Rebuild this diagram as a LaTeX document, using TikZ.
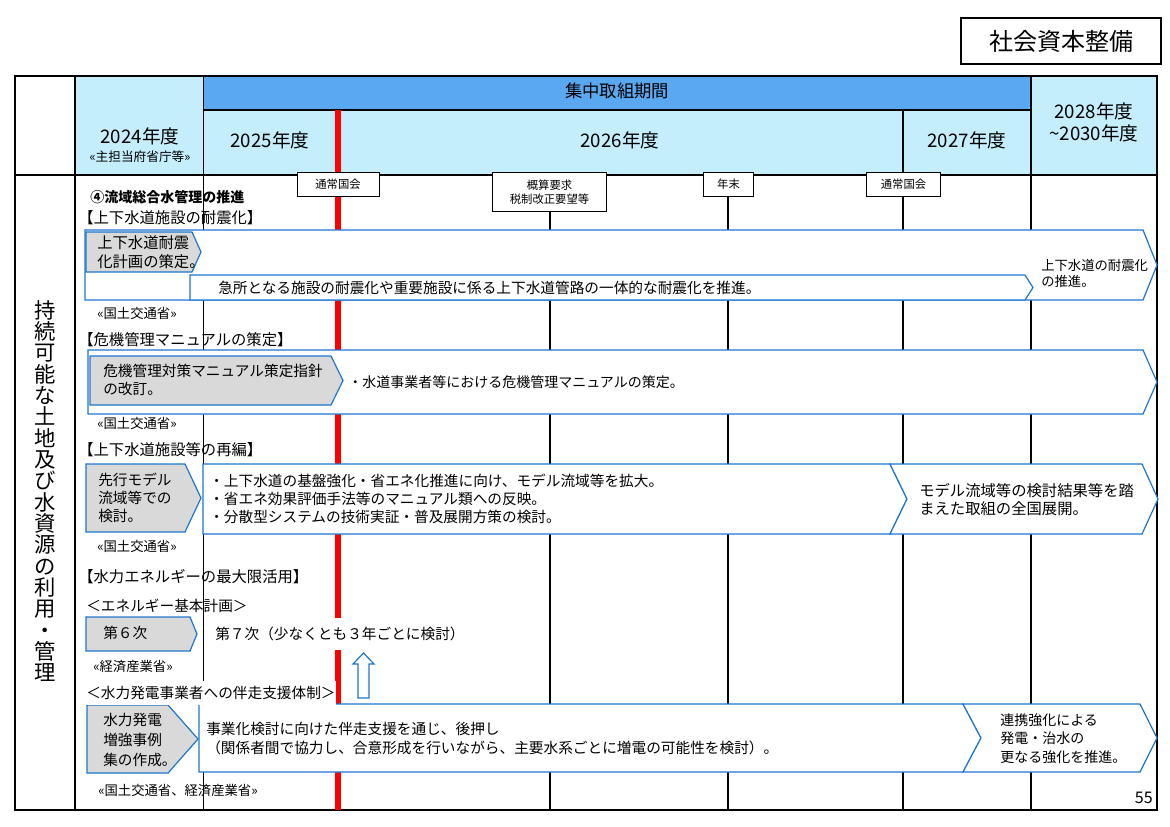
\documentclass[tikz,border=0pt]{standalone}
\usepackage{fontspec}
\setmainfont{Noto Sans CJK JP}
\usepackage{xcolor}
\usepackage{tikz}
\usetikzlibrary{positioning,calc}
\definecolor{arrowblue}{RGB}{30,118,206}
\definecolor{headlight}{RGB}{197,238,252}
\definecolor{headdark}{RGB}{90,168,240}
\definecolor{boxgray}{RGB}{217,217,217}
\definecolor{markred}{RGB}{255,0,0}
\newcommand{\fsz}[2]{\fontsize{#1}{#2}\selectfont}

\begin{document}
\begin{tikzpicture}[x=0.75pt,y=-0.75pt,
    txt/.style={inner sep=0pt, anchor=west, align=left, font=\fsz{11}{14}},
    head/.style={txt, font=\fsz{11.5}{14}},
    agency/.style={txt, font=\fsz{10}{11}},
    year/.style={inner sep=0pt, align=center, font=\fsz{14}{16.5}},
    marker/.style={draw, line width=0.6pt, fill=white, anchor=north, align=center, inner sep=1pt, font=\fsz{8.5}{10.5}},
    bluearrow/.style={draw=arrowblue, line width=0.9pt, fill=white},
    grayarrow/.style={bluearrow, fill=boxgray}]
    \useasboundingbox (0,0) rectangle (1170,827);

    \node[draw, line width=1.2pt, minimum width=150pt, minimum height=34.5pt, font=\fsz{18}{18}] (title) at (1061,41) {社会資本整備};

    \fill[headlight] (75,76) rectangle (1157,175);
    \fill[headdark] (203,76) rectangle (1031,110);

    \draw[line width=0.6pt] (203,76) -- (203,810);
    \draw[line width=1pt] (550,175) -- (550,810);
    \draw[line width=1.7pt] (728,175) -- (728,810);
    \draw[line width=0.8pt] (903,110) -- (903,810);
    \foreach \x in {75,1031} \draw[line width=1.7pt] (\x,76) -- (\x,810);
    \draw[line width=1.5pt] (203,110) -- (1031,110);
    \draw[line width=1.7pt] (15,175) -- (1157,175);
    \draw[line width=1.5pt] (15,76) rectangle (1157,810);
    \draw[markred, line width=4.5pt] (338,110) -- (338,810);

    \node[year] (y2024) at (140,136) {2024年度};
    \node[inner sep=0pt, font=\fsz{9.5}{10}, below=4pt of y2024] (lead) {«主担当府省庁等»};
    \node[year, font=\fsz{13}{16}] (focus) at (617,91) {集中取組期間};
    \node[year] (y2025) at (270,140) {2025年度};
    \node[year] (y2026) at (620,140) {2026年度};
    \node[year] (y2027) at (967,140) {2027年度};
    \node[year] (y2028) at (1094,122) {2028年度\\\textasciitilde2030年度};

    \node[marker, minimum width=61.5pt, minimum height=18pt] (diet1) at (338,172) {通常国会};
    \node[marker, minimum width=86pt, minimum height=29pt] (budget) at (549.5,172) {概算要求\\税制改正要望等};
    \node[marker, minimum width=38pt, minimum height=18pt] (yearend) at (728.5,172) {年末};
    \node[marker, minimum width=56pt, minimum height=18pt] (diet2) at (903.5,172) {通常国会};

    \node[inner sep=0pt, align=center, font=\fsz{16}{16}] (theme) at (45,491)
        {持\\続\\可\\能\\な\\土\\地\\及\\び\\水\\資\\源\\の\\利\\用\\・\\管\\理};

    \draw[bluearrow] (85,230) -- (1143,230) -- (1157,265) -- (1143,300) -- (85,300) -- cycle;
    \draw[grayarrow] (86,232) -- (192,232) -- (201,252) -- (192,272) -- (86,272) -- cycle;
    \draw[bluearrow] (190,275) -- (1025,275) -- (1033,287.5) -- (1025,300) -- (190,300) -- cycle;

    \draw[bluearrow] (88,350) -- (1143,350) -- (1157,382) -- (1143,414) -- (88,414) -- cycle;
    \draw[grayarrow] (90,356) -- (331,356) -- (343,380.5) -- (331,405) -- (90,405) -- cycle;

    \draw[grayarrow] (86,464) -- (185,464) -- (201,498) -- (185,532) -- (86,532) -- cycle;
    \draw[bluearrow] (203,464) -- (890,464) -- (907,499) -- (890,534) -- (203,534) -- cycle;
    \draw[bluearrow] (890,464) -- (1142,464) -- (1158,499) -- (1142,534) -- (890,534) -- (907,499) -- cycle;

    \draw[grayarrow] (86,617) -- (190,617) -- (197,634) -- (190,651) -- (86,651) -- cycle;

    \draw[grayarrow] (87,705) -- (168,705) -- (198,739) -- (168,773) -- (87,773) -- cycle;
    \draw[bluearrow] (199,704) -- (963,704) -- (981,738) -- (963,772) -- (199,772) -- cycle;
    \draw[bluearrow] (963,704) -- (1140,704) -- (1157,738) -- (1140,772) -- (963,772) -- (981,738) -- cycle;

    \draw[bluearrow] (358,698) -- (358,664) -- (353,664) -- (363.5,653) -- (374,664) -- (369,664) -- (369,698) -- cycle;

    \node[txt, font=\bfseries\fsz{10.5}{12}] (goal) at (90,197) {④流域総合水管理の推進};
    \node[head] (headA) at (78,218) {【上下水道施設の耐震化】};
    \node[txt, font=\fsz{11.5}{14.25}] (planA) at (97,252.5) {上下水道耐震\\化計画の策定。};
    \node[txt] (workA) at (218,287.5) {急所となる施設の耐震化や重要施設に係る上下水道管路の一体的な耐震化を推進。};
    \node[txt, font=\fsz{10}{12}] (laterA) at (1041,273) {上下水道の耐震化\\の推進。};
    \node[agency] (agA) at (97,313) {«国土交通省»};

    \node[head] (headB) at (78,340) {【危機管理マニュアルの策定】};
    \node[txt, font=\fsz{11}{13.5}] (planB) at (103,380) {危機管理対策マニュアル策定指針\\の改訂。};
    \node[txt, font=\fsz{10.5}{13}] (workB) at (348,382) {・水道事業者等における危機管理マニュアルの策定。};
    \node[agency] (agB) at (97,423) {«国土交通省»};

    \node[head] (headC) at (78,450) {【上下水道施設等の再編】};
    \node[txt, font=\fsz{11}{13.5}] (planC) at (98,498) {先行モデル\\流域等での\\検討。};
    \node[txt, font=\fsz{11}{13.5}] (workC) at (209,499) {・上下水道の基盤強化・省エネ化推進に向け、モデル流域等を拡大。\\・省エネ効果評価手法等のマニュアル類への反映。\\・分散型システムの技術実証・普及展開方策の検討。};
    \node[txt, font=\fsz{11.5}{13.5}] (laterC) at (919,500) {モデル流域等の検討結果等を踏\\まえた取組の全国展開。};
    \node[agency] (agC) at (97,546) {«国土交通省»};

    \node[head] (headD) at (78,577) {【水力エネルギーの最大限活用】};
    \node[txt] (basic) at (86,606) {＜エネルギー基本計画＞};
    \node[txt] (plan6) at (103,633) {第６次};
    \node[txt, fill=white, inner ysep=7pt] (plan7) at (215,634) {第７次（少なくとも３年ごとに検討）};
    \node[agency] (agD) at (93,666) {«経済産業省»};

    \node[txt, fill=white, inner ysep=4pt] (support) at (86,693) {＜水力発電事業者への伴走支援体制＞};
    \node[txt, font=\fsz{11}{15}] (planE) at (103,740) {水力発電\\増強事例\\集の作成。};
    \node[txt, font=\fsz{11}{14.25}] (workE) at (206,738.5) {事業化検討に向けた伴走支援を通じ、後押し\\（関係者間で協力し、合意形成を行いながら、主要水系ごとに増電の可能性を検討）。};
    \node[txt, font=\fsz{10.5}{13.9}] (laterE) at (1000,738.5) {連携強化による\\発電・治水の\\更なる強化を推進。};
    \node[agency] (agE) at (98,790) {«国土交通省、経済産業省»};

    \node[inner sep=0pt, anchor=east, font=\fsz{12}{12}] (page) at (1153,798) {55};
\end{tikzpicture}
\end{document}
